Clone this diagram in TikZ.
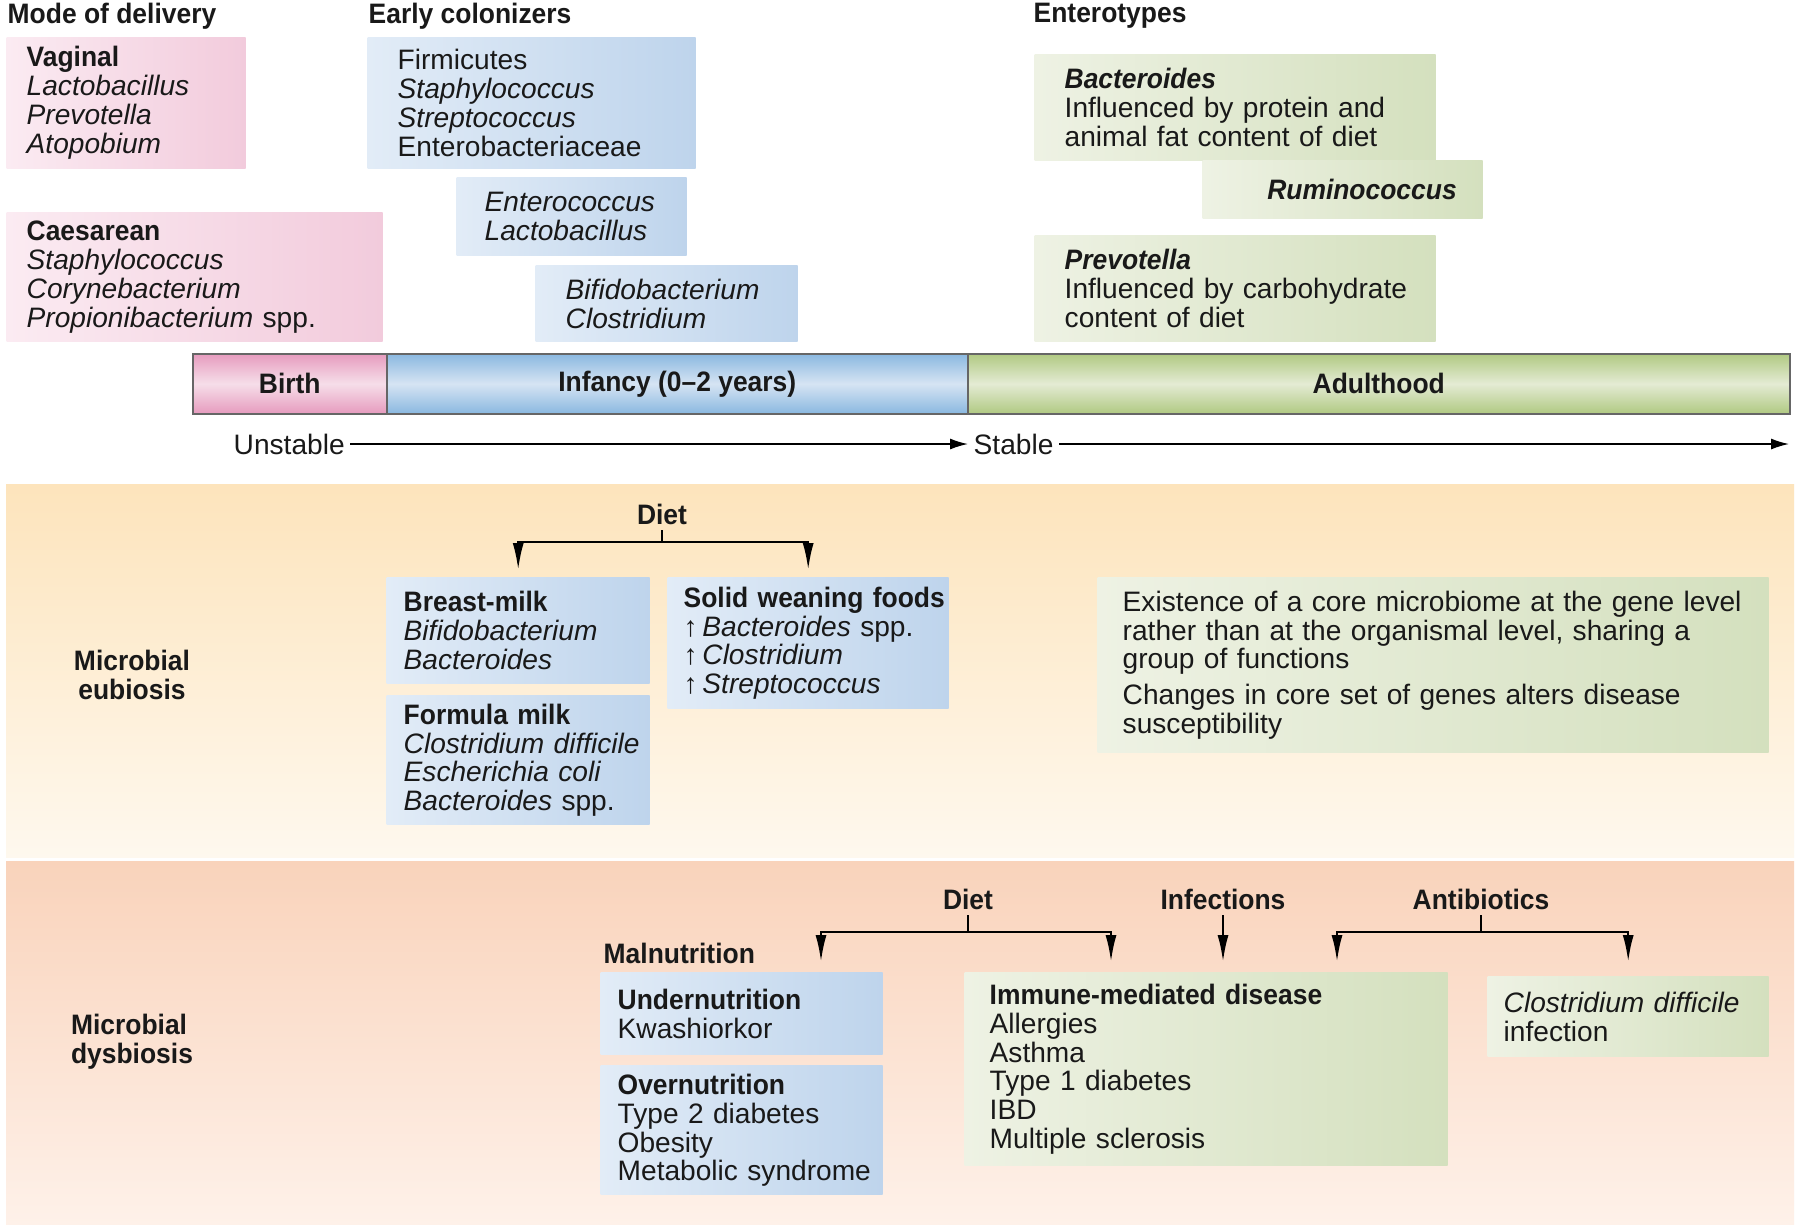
\documentclass[tikz,border=0pt]{standalone}
\usepackage{fontspec}
\setmainfont{Liberation Sans}[BoldFeatures={FakeStretch=0.94},BoldItalicFeatures={FakeStretch=0.94}]
\usetikzlibrary{arrows.meta}
\definecolor{pinkL}{RGB}{251,235,242}
\definecolor{pinkR}{RGB}{242,203,220}
\definecolor{blueL}{RGB}{226,236,247}
\definecolor{blueR}{RGB}{190,212,236}
\definecolor{greenL}{RGB}{238,242,228}
\definecolor{greenR}{RGB}{212,224,190}
\definecolor{birthE}{RGB}{230,155,190}
\definecolor{birthM}{RGB}{246,222,233}
\definecolor{infE}{RGB}{138,184,224}
\definecolor{infM}{RGB}{214,228,243}
\definecolor{adultE}{RGB}{176,201,130}
\definecolor{adultM}{RGB}{228,235,212}
\definecolor{eubT}{RGB}{253,228,188}
\definecolor{eubB}{RGB}{254,248,238}
\definecolor{dysT}{RGB}{249,211,187}
\definecolor{dysB}{RGB}{254,241,233}

\begin{document}
\begin{tikzpicture}[x=0.1mm,y=-0.1mm]
    \tikzstyle{every node}=[font=\fontsize{8}{8.25}\selectfont, text=black!90]
    \tikzstyle{boxbase}=[anchor=north west, align=left, inner ysep=0.5mm]
    \tikzstyle{pinkbox}=[boxbase, left color=pinkL, right color=pinkR]
    \tikzstyle{bluebox}=[boxbase, left color=blueL, right color=blueR]
    \tikzstyle{greenbox}=[boxbase, left color=greenL, right color=greenR]
    \tikzstyle{barpart}=[anchor=north west, minimum height=0.6cm, inner sep=0, draw=black!60, line width=0.15mm]
    \tikzstyle{hdr}=[font=\fontsize{8}{8.25}\selectfont\bfseries, inner sep=0.5mm]
    \tikzstyle{lbl}=[font=\fontsize{8}{8.25}\selectfont\bfseries, inner sep=0.5mm]
    \tikzstyle{arr}=[-{Latex[length=2.7mm,width=1.1mm]}, line width=0.25mm]
    \tikzstyle{tlarrow}=[-{Latex[length=1.8mm,width=1.1mm]}, line width=0.15mm]
    \begin{scope}

       \fill[white] (0,0) rectangle (1800,1230);
       \useasboundingbox (0,0) rectangle (1800,1230);
       \shade[top color=eubT, bottom color=eubB] (6,484) rectangle (1794,857);
       \shade[top color=dysT, bottom color=dysB] (6,861) rectangle (1794,1224);

       \node[hdr, anchor=west] (mode) at (2,16) {Mode of delivery};
       \node[hdr, anchor=west] (early) at (363,16) {Early colonizers};
       \node[hdr, anchor=west] (entero) at (1028,16) {Enterotypes};

       \node[pinkbox, text width=1.99cm, inner xsep=2mm, minimum height=1.31cm] (vaginal) at (6,37)
           {\textbf{Vaginal}\\\textit{Lactobacillus}\\\textit{Prevotella}\\\textit{Atopobium}};
       \node[pinkbox, text width=3.36cm, inner xsep=2mm, minimum height=1.29cm] (caesar) at (6,212)
           {\textbf{Caesarean}\\\textit{Staphylococcus}\\\textit{Corynebacterium}\\\textit{Propionibacterium} spp.};

       \node[bluebox, text width=2.68cm, inner xsep=3mm, minimum height=1.31cm] (firmic) at (367,37)
           {Firmicutes\\\textit{Staphylococcus}\\\textit{Streptococcus}\\Enterobacteriaceae};
       \node[bluebox, text width=1.74cm, inner xsep=2.8mm, minimum height=0.78cm] (enteroc) at (456,177)
           {\textit{Enterococcus}\\\textit{Lactobacillus}};
       \node[bluebox, text width=2.02cm, inner xsep=3mm, minimum height=0.76cm] (bifido) at (535,265)
           {\textit{Bifidobacterium}\\\textit{Clostridium}};

       \node[greenbox, text width=3.41cm, inner xsep=3mm, minimum height=1.06cm] (bactero) at (1034,54)
           {\textbf{\textit{Bacteroides}}\\\mbox{Influenced by protein and}\\\mbox{animal fat content of diet}};
       \node[greenbox, text width=2.28cm, inner xsep=2.6mm, minimum height=0.58cm, align=right] (rumino) at (1202,160)
           {\textbf{\textit{Ruminococcus}}};
       \node[greenbox, text width=3.41cm, inner xsep=3mm, minimum height=1.06cm] (prevo) at (1034,235)
           {\textbf{\textit{Prevotella}}\\\mbox{Influenced by carbohydrate}\\content of diet};

       \node[barpart, minimum width=1.94cm, top color=birthE, bottom color=birthE, middle color=birthM] (birth) at (192,353) {\textbf{Birth}};
       \node[barpart, minimum width=5.81cm, top color=infE, bottom color=infE, middle color=infM] (infancy) at (386,353) {\textbf{Infancy (0–2 years)}};
       \node[barpart, minimum width=8.22cm, top color=adultE, bottom color=adultE, middle color=adultM] (adult) at (967,353) {\textbf{Adulthood}};

       \node[anchor=west, inner sep=0.5mm] (unst) at (228,444) {Unstable};
       \node[anchor=west, inner sep=0.5mm] (stab) at (968,444) {Stable};
       \coordinate (tend) at (1789,444);
       \draw[tlarrow] (unst) -- (stab);
       \draw[tlarrow] (stab) -- (tend);

       \node[lbl, align=center] (eub) at (132,675) {Microbial\\eubiosis};
       \node[lbl] (ediet) at (662,514) {Diet};
       \node[bluebox, text width=2.29cm, inner xsep=1.7mm, minimum height=1.06cm] (breast) at (386,577)
           {\textbf{Breast-milk}\\\textit{Bifidobacterium}\\\textit{Bacteroides}};
       \node[bluebox, text width=2.29cm, inner xsep=1.7mm, minimum height=1.29cm] (formula) at (386,695)
           {\textbf{Formula milk}\\\mbox{\textit{Clostridium difficile}}\\\textit{Escherichia coli}\\\textit{Bacteroides} spp.};
       \node[bluebox, text width=2.49cm, inner xsep=1.6mm, minimum height=1.31cm] (solid) at (667,577)
           {\mbox{\textbf{Solid weaning foods}}\\↑\,\textit{Bacteroides} spp.\\↑\,\textit{Clostridium}\\↑\,\textit{Streptococcus}};
       \node[greenbox, text width=6.21cm, inner xsep=2.5mm, minimum height=1.75cm] (core) at (1097,577)
           {\mbox{Existence of a core microbiome at the gene level}\\\mbox{rather than at the organismal level, sharing a}\\group of functions\\[0.7mm]\mbox{Changes in core set of genes alters disease}\\susceptibility};
       \draw[arr, shorten >=0.7mm] (ediet.south) -- ++(0,12) -| (breast.north);
       \draw[arr, shorten >=0.7mm] (ediet.south) -- ++(0,12) -| (solid.north);

       \node[lbl, align=left] (dys) at (132,1042) {Microbial\\dysbiosis};
       \node[lbl] (ddiet) at (968,899) {Diet};
       \node[lbl] (infect) at (1223,899) {Infections};
       \node[lbl] (abx) at (1481,899) {Antibiotics};
       \node[lbl, anchor=west] (maln) at (598,953) {Malnutrition};
       \node[bluebox, text width=2.48cm, inner xsep=1.7mm, minimum height=0.82cm] (undern) at (600,972)
           {\textbf{Undernutrition}\\Kwashiorkor};
       \node[bluebox, text width=2.48cm, inner xsep=1.7mm, minimum height=1.29cm] (overn) at (600,1065)
           {\textbf{Overnutrition}\\Type 2 diabetes\\Obesity\\\mbox{Metabolic syndrome}};
       \node[greenbox, text width=4.33cm, inner xsep=2.5mm, minimum height=1.93cm] (immune) at (964,972)
           {\mbox{\textbf{Immune-mediated disease}}\\Allergies\\Asthma\\Type 1 diabetes\\IBD\\Multiple sclerosis};
       \node[greenbox, text width=2.49cm, inner xsep=1.6mm, minimum height=0.8cm] (cdiff) at (1487,976)
           {\mbox{\textit{Clostridium difficile}}\\infection};

       \coordinate (dl) at (821,962);
       \coordinate (dr) at (1111,962);
       \coordinate (al) at (1337,962);
       \draw[arr] (ddiet.south) -- ++(0,17) -| (dl);
       \draw[arr] (ddiet.south) -- ++(0,17) -| (dr);
       \draw[arr] (infect.south) -- (infect.south |- dl);
       \draw[arr] (abx.south) -- ++(0,17) -| (al);
       \draw[arr, shorten >=1.4mm] (abx.south) -- ++(0,17) -| (cdiff.north);

     \end{scope}
\end{tikzpicture}
\end{document}
